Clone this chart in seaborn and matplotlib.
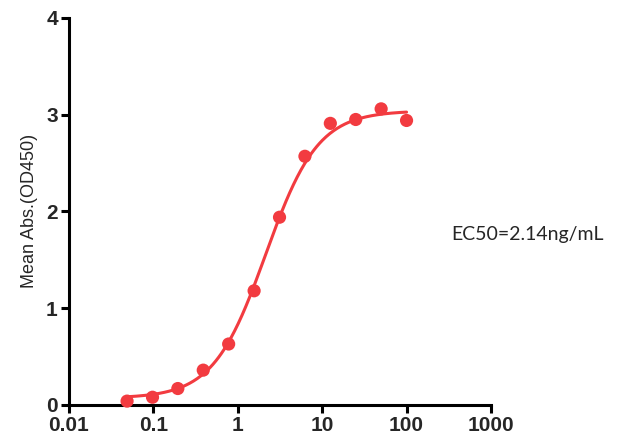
import numpy as np
import pandas as pd
import seaborn as sns
import matplotlib
matplotlib.use('Agg')
import matplotlib.pyplot as plt

# measured points (ng/mL vs OD450)
conc=[0.0488,0.0977,0.195,0.39,0.78,1.5625,3.125,6.25,12.5,25,50,100]
od450=[0.04,0.08,0.17,0.36,0.63,1.18,1.94,2.57,2.91,2.95,3.06,2.94]
# four-parameter logistic fit
fit_bottom=0.07
fit_top=3.04
fit_ec50=2.14
fit_hill=1.4
xticks=[0.01,0.1,1,10,100,1000]
xtick_labels=['0.01','0.1','1','10','100','1000']
yticks=[0,1,2,3,4]

red='#f23b40'
pts=pd.DataFrame({'conc':conc,'od':od450})
xc=np.geomspace(conc[0],conc[-1],300)
yc=fit_bottom+(fit_top-fit_bottom)/(1+(fit_ec50/xc)**fit_hill)
curve=pd.DataFrame({'conc':xc,'od':yc})

sns.set_style('ticks')
plt.rcParams['font.family']=['Liberation Sans','DejaVu Sans']

fig=plt.figure(figsize=(6.27,4.47),dpi=100)
ax=fig.add_axes([0.110,0.094,0.673,0.866])
sns.lineplot(data=curve,x='conc',y='od',color=red,lw=2.2,ax=ax)
sns.scatterplot(data=pts,x='conc',y='od',color=red,s=90,edgecolor='none',ax=ax,zorder=3,clip_on=False)
ax.set_xscale('log')
ax.set_xlim(0.01,1000)
ax.set_ylim(0,4)
ax.set_xticks(xticks)
ax.set_xticklabels(xtick_labels)
ax.minorticks_off()
ax.set_yticks(yticks)
for lab in ax.get_xticklabels()+ax.get_yticklabels():
    lab.set_fontweight('bold')
    lab.set_fontsize(15)
ax.tick_params(axis='both',length=6,width=2.2,color='black',direction='out',pad=2)
ax.set_xlabel('')
ax.set_ylabel('Mean Abs.(OD450)',fontsize=13,labelpad=6)
for s in ['left','bottom']:
    ax.spines[s].set_linewidth(2.2)
    ax.spines[s].set_color('black')
sns.despine(ax=ax)
ax.text(340,1.76,'EC50=2.14ng/mL',fontsize=14,family=['Lato','DejaVu Sans'],ha='left',va='center')
fig.savefig('out.png',dpi=100)
